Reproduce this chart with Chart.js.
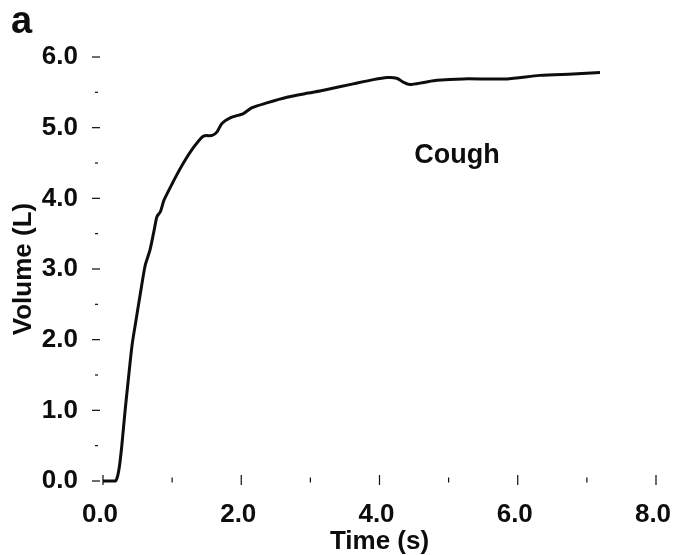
<!DOCTYPE html>
<html>
<head>
<meta charset="utf-8">
<script src="https://cdn.jsdelivr.net/npm/chart.js@4/dist/chart.umd.min.js"></script>
<style>
  html, body { margin: 0; padding: 0; background: #ffffff; }
  #wrap { width: 674px; height: 555px; position: relative; }
  canvas { display: block; }
</style>
</head>
<body>
<div id="wrap"><canvas id="c" width="674" height="555"></canvas></div>
<script>
// ---- data ----
const timeS = [0.00, 0.18, 0.23, 0.27, 0.32, 0.37, 0.42, 0.47, 0.54, 0.61, 0.68, 0.74, 0.78, 0.83, 0.88, 0.93, 1.05, 1.17, 1.31, 1.45, 1.58, 1.65, 1.72, 1.84, 2.03, 2.15, 2.37, 2.66, 2.97, 3.19, 3.62, 3.91, 4.11, 4.25, 4.35, 4.44, 4.64, 4.83, 5.21, 5.84, 6.32, 6.80, 7.19];
const volumeL = [0.00, 0.00, 0.16, 0.48, 1.00, 1.47, 1.92, 2.23, 2.65, 3.05, 3.27, 3.55, 3.74, 3.81, 3.97, 4.07, 4.30, 4.51, 4.72, 4.88, 4.89, 4.94, 5.06, 5.14, 5.20, 5.28, 5.35, 5.43, 5.49, 5.53, 5.62, 5.68, 5.71, 5.70, 5.64, 5.61, 5.64, 5.67, 5.69, 5.69, 5.74, 5.76, 5.78];
const xTickLabels = ['0.0', '2.0', '4.0', '6.0', '8.0'];
const yTickLabels = ['0.0', '1.0', '2.0', '3.0', '4.0', '5.0', '6.0'];
const xMarkValues = [0, 1, 2, 3, 4, 5, 6, 7, 8];
const yMarkValues = [0, 0.5, 1, 1.5, 2, 2.5, 3, 3.5, 4, 4.5, 5, 5.5, 6];
const panelLetter = 'a';
const seriesNote = 'Cough';
const xTitle = 'Time (s)';
const yTitle = 'Volume (L)';

const FONT = '"Liberation Sans", Arial, Helvetica, sans-serif';
const INK = '#0d0d0d';

const points = timeS.map((t, i) => ({ x: t, y: volumeL[i] }));

const marksPlugin = {
  id: 'marks',
  afterDraw(chart) {
    const ctx = chart.ctx;
    const xs = chart.scales.x, ys = chart.scales.y;
    const y0 = ys.getPixelForValue(0);
    const x0 = xs.getPixelForValue(0);
    ctx.save();
    ctx.strokeStyle = INK;
    ctx.lineWidth = 1.2;
    xMarkValues.forEach(v => {
      const px = xs.getPixelForValue(v);
      const major = v % 2 === 0;
      const h = major ? 10 : 5;
      ctx.beginPath();
      ctx.moveTo(px, y0 - h / 2 - 1);
      ctx.lineTo(px, y0 + h / 2 - 1);
      ctx.stroke();
    });
    yMarkValues.forEach(v => {
      const py = ys.getPixelForValue(v);
      const major = Number.isInteger(v);
      ctx.beginPath();
      if (major) { ctx.moveTo(x0 - 11, py); ctx.lineTo(x0 - 3, py); }
      else { ctx.moveTo(x0 - 8, py); ctx.lineTo(x0 - 5, py); }
      ctx.stroke();
    });
    ctx.fillStyle = INK;
    ctx.textBaseline = 'alphabetic';
    ctx.textAlign = 'left';
    ctx.font = 'bold 38px ' + FONT;
    ctx.fillText(panelLetter, 11, 33);
    ctx.textAlign = 'center';
    ctx.font = 'bold 27px ' + FONT;
    ctx.fillText(seriesNote, 457, 163);
    ctx.restore();
  }
};

new Chart(document.getElementById('c'), {
  type: 'line',
  data: {
    datasets: [{
      data: points,
      borderColor: INK,
      borderWidth: 3,
      pointRadius: 0,
      tension: 0.25,
      fill: false,
      clip: false
    }]
  },
  options: {
    responsive: false,
    animation: false,
    devicePixelRatio: 1,
    layout: { padding: { top: 57, right: 18, bottom: 0, left: 0 } },
    plugins: { legend: { display: false }, tooltip: { enabled: false }, title: { display: false } },
    scales: {
      x: {
        type: 'linear',
        min: 0, max: 8,
        grid: { display: false, drawTicks: false },
        border: { display: false },
        ticks: {
          stepSize: 2,
          padding: 18,
          labelOffset: -3,
          color: INK,
          font: { family: FONT, size: 26, weight: 'bold', lineHeight: 1.2 },
          callback: (v) => xTickLabels[xTickLabels.indexOf(Number(v).toFixed(1))] ?? ''
        },
        title: {
          display: true, text: xTitle, color: INK,
          font: { family: FONT, size: 26, weight: 'bold', lineHeight: 1 },
          padding: { top: 0, bottom: 0 }
        },
        afterFit: (s) => { s.height = 74; s.paddingLeft = 0; s.paddingRight = 0; }
      },
      y: {
        type: 'linear',
        min: 0, max: 6,
        grid: { display: false, drawTicks: false },
        border: { display: false },
        ticks: {
          stepSize: 1,
          padding: 25,
          color: INK,
          font: { family: FONT, size: 26, weight: 'bold', lineHeight: 1.2 },
          callback: (v) => yTickLabels[yTickLabels.indexOf(Number(v).toFixed(1))] ?? ''
        },
        title: {
          display: true, text: yTitle, color: INK,
          font: { family: FONT, size: 26, weight: 'bold', lineHeight: 1 },
          padding: { top: 11, bottom: 0 }
        },
        afterFit: (s) => { s.width = 103; s.paddingTop = 0; s.paddingBottom = 0; }
      }
    }
  },
  plugins: [marksPlugin]
});
</script>
</body>
</html>
